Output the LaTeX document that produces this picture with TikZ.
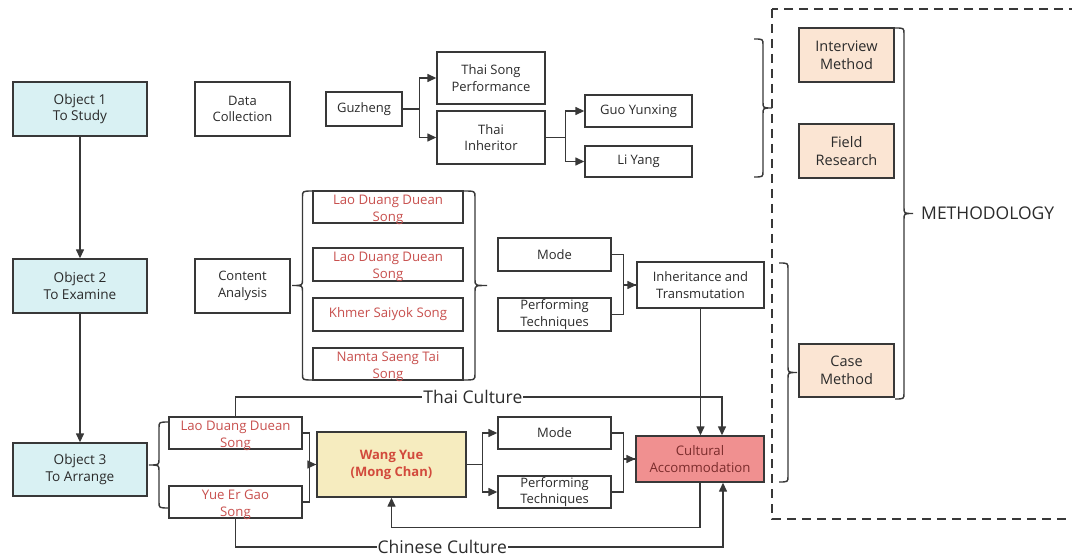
\documentclass[tikz,border=0pt]{standalone}
\usepackage{fontspec}
\setmainfont{Open Sans}
\usetikzlibrary{arrows.meta}
\definecolor{linec}{HTML}{383838}
\definecolor{textc}{HTML}{2B2B2B}
\definecolor{cyanf}{HTML}{D9F1F3}
\definecolor{redt}{HTML}{C8504E}
\definecolor{wyf}{HTML}{F6ECBF}
\definecolor{wyt}{HTML}{D24A3C}
\definecolor{cuf}{HTML}{F09090}
\definecolor{cut}{HTML}{7B2C2C}
\definecolor{peach}{HTML}{FBE5D3}
\tikzset{
  box/.style={draw=linec, line width=1.4pt, inner sep=0pt, align=center, text=textc,
    font=\fontsize{13}{16.5}\selectfont},
  objbox/.style={box, fill=cyanf, font=\fontsize{13.6}{16.5}\selectfont},
  songbox/.style={box},
  songtxt/.style={text=redt, align=center, font=\fontsize{13.2}{17}\selectfont, inner sep=0pt},
  wybox/.style={box, fill=wyf, text=wyt, font=\fontsize{13}{17}\selectfont\bfseries},
  cubox/.style={box, fill=cuf, text=cut, font=\fontsize{13.2}{17}\selectfont},
  methbox/.style={box, fill=peach, font=\fontsize{14.5}{18}\selectfont},
  conn/.style={draw=linec, line width=1.4pt},
  arr/.style={conn, -{Triangle[length=9pt,width=8pt]}},
  brc/.style={draw=linec, line width=1.4pt},
  lbl/.style={fill=white, inner sep=1pt, text=textc, font=\fontsize{17.5}{20}\selectfont},
}
% brace: #1 x of ends, #2 top y, #3 bottom y, #4 signed width (positive: tip to the right)
\newcommand{\mybrc}[4]{%
  \draw[brc] (#1,#2) .. controls ({#1+#4/2},#2) .. ({#1+#4/2},{#2+6})
    -- ({#1+#4/2},{(#2+#3)/2-6}) .. controls ({#1+#4/2},{(#2+#3)/2}) .. ({#1+#4},{(#2+#3)/2})
    .. controls ({#1+#4/2},{(#2+#3)/2}) .. ({#1+#4/2},{(#2+#3)/2+6})
    -- ({#1+#4/2},{#3-6}) .. controls ({#1+#4/2},#3) .. (#1,#3);}
\begin{document}
\begin{tikzpicture}[x=1pt,y=-1pt]
\useasboundingbox (0,0) rectangle (1072,556);
\fill[white] (0,0) rectangle (1072,556);

% left column
\node[objbox, minimum width=134pt, minimum height=54pt] (o1) at (80,109) {Object 1\\To Study};
\node[objbox, minimum width=134pt, minimum height=54pt] (o2) at (80,286) {Object 2\\To Examine};
\node[objbox, minimum width=134pt, minimum height=53pt] (o3) at (80,469.5) {Object 3\\To Arrange};
\draw[arr] (o1.south) -- (o2.north);
\draw[arr] (o2.south) -- (o3.north);

% second column
\node[box, minimum width=95pt, minimum height=54pt] (dc) at (242.5,109) {Data\\Collection};
\node[box, minimum width=95pt, minimum height=54pt] (ca) at (242.5,286) {Content\\Analysis};

% top row
\node[box, minimum width=76pt, minimum height=34pt] (gz) at (364,109) {Guzheng};
\node[box, minimum width=108pt, minimum height=52pt] (tsp) at (491,78) {Thai Song\\Performance};
\node[box, minimum width=108pt, minimum height=53pt] (ti) at (491,137.5) {Thai\\Inheritor};
\node[box, minimum width=107pt, minimum height=32pt] (gy) at (638.5,111) {Guo Yunxing};
\node[box, minimum width=107pt, minimum height=31pt] (ly) at (638.5,161.5) {Li Yang};
\draw[arr] (gz.east) -- ++(17,0) |- (tsp.west);
\draw[arr] (gz.east) -- ++(17,0) |- (ti.west);
\draw[arr] (ti.east) -- ++(20,0) |- (gy.west);
\draw[arr] (ti.east) -- ++(20,0) |- (ly.west);

% songs
\node[songbox, minimum width=150pt, minimum height=32pt,
  label={[songtxt, yshift=-2.5pt]center:Lao Duang Duean\\Song}] (s1) at (388,207) {};
\node[songbox, minimum width=150pt, minimum height=33pt,
  label={[songtxt, yshift=-2.5pt]center:Lao Duang Duean\\Song}] (s2) at (388,264.5) {};
\node[songbox, minimum width=150pt, minimum height=33pt,
  label={[songtxt]center:Khmer Saiyok Song}] (s3) at (388,314.5) {};
\node[songbox, minimum width=150pt, minimum height=32pt,
  label={[songtxt, yshift=-2.5pt]center:Namta Saeng Tai\\Song}] (s4) at (388,364) {};
\mybrc{313}{191}{380}{-21}
\mybrc{463}{191}{380}{24}

\node[box, minimum width=113pt, minimum height=33pt] (md1) at (554.5,254.5) {Mode};
\node[box, minimum width=113pt, minimum height=33pt] (pt1) at (554.5,314.5) {Performing\\Techniques};
\node[box, minimum width=127pt, minimum height=46pt] (it) at (700.5,285) {Inheritance and\\Transmutation};
\draw[conn] (md1.east) -- ++(12,0) |- (it.west);
\draw[arr] (pt1.east) -- ++(12,0) |- (it.west);

% bottom row
\node[songbox, minimum width=133pt, minimum height=32pt,
  label={[songtxt, yshift=-2.5pt]center:Lao Duang Duean\\Song}] (ls) at (235.5,433) {};
\node[songbox, minimum width=133pt, minimum height=32pt,
  label={[songtxt, yshift=-2.5pt]center:Yue Er Gao\\Song}] (ye) at (235.5,502) {};
\mybrc{169}{422}{508}{-20}

\node[wybox, minimum width=149pt, minimum height=65pt] (wy) at (391.5,464.5) {Wang Yue\\(Mong Chan)};
\draw[conn] (ls.east) -- ++(7,0) |- (wy.west);
\draw[arr] (ye.east) -- ++(7,0) |- (wy.west);

\node[box, minimum width=113pt, minimum height=32pt] (md2) at (554.5,433) {Mode};
\node[box, minimum width=113pt, minimum height=32pt] (pt2) at (554.5,492) {Performing\\Techniques};
\draw[arr] (wy.east) -- ++(16,0) |- (md2.west);
\draw[arr] (wy.east) -- ++(16,0) |- (pt2.west);

\node[cubox, minimum width=128pt, minimum height=46pt] (cu) at (700,459) {Cultural\\Accommodation};
\draw[conn] (md2.east) -- ++(12,0) |- (cu.west);
\draw[arr] (pt2.east) -- ++(12,0) |- (cu.west);
\draw[arr] (it.south) -- (it.south |- cu.north);

\coordinate (thaiR) at (722,397);
\coordinate (chR) at (723,547);
\draw[arr] (ls.north) |- node[lbl, pos=0.744] {Thai Culture} (thaiR) -- (thaiR |- cu.north);
\draw[arr] (ye.south) |- node[lbl, pos=0.712] {Chinese Culture} (chR) -- (chR |- cu.south);
\draw[arr] (cu.south) -- ++(0,45) -| (wy.south);

% methodology
\draw[draw=linec, line width=1.4pt, dash pattern=on 9pt off 6pt] (772,9) rectangle (1090,519);
\node[methbox, minimum width=95pt, minimum height=54pt] (im) at (846.5,55) {Interview\\Method};
\node[methbox, minimum width=95pt, minimum height=54pt] (fr) at (846.5,151) {Field\\Research};
\node[methbox, minimum width=95pt, minimum height=53pt] (cm) at (846.5,370.5) {Case\\Method};
\mybrc{754}{39}{177}{18}
\mybrc{779}{263}{482}{18}
\mybrc{895}{28}{399}{18}
\node[anchor=west, inner sep=0pt, text=textc, font=\fontsize{17.5}{20}\selectfont] (meth) at (921,213) {METHODOLOGY};
\end{tikzpicture}
\end{document}
